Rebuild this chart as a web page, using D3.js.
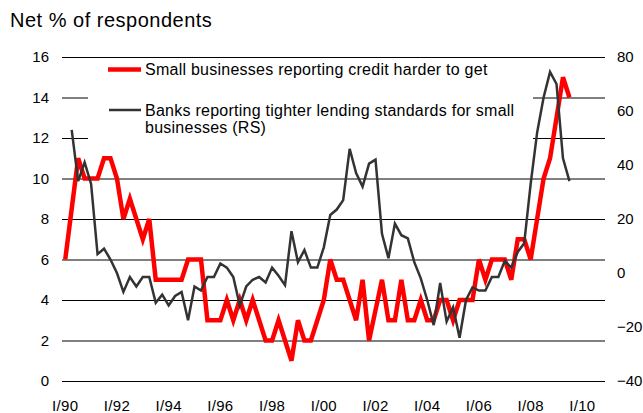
<!DOCTYPE html>
<html>
<meta charset="utf-8">
<script src="https://d3js.org/d3.v7.min.js"></script>
<style>
  body { margin: 0; background: #fff; }
  text { font-family: "Liberation Sans", Arial, sans-serif; fill: #000; }
</style>
<body>
<div id="chart"></div>
<script>

// quarters 1990 Q1 .. 2010 Q4 (category axis)
var years = ["90","91","92","93","94","95","96","97","98","99","00",
             "01","02","03","04","05","06","07","08","09","10"];
var quarterNames = ["I","II","III","IV"];
var tickLabels = ["I/90","I/92","I/94","I/96","I/98","I/00","I/02","I/04","I/06","I/08","I/10"];

// Small businesses reporting credit harder to get (left axis), from I/90
var smallBiz = [6, 8.5, 11, 10, 10, 10, 11, 11, 10, 8, 9, 8, 7, 8, 5, 5,
                5, 5, 5, 6, 6, 6, 3, 3, 3, 4, 3, 4, 3, 4, 3, 2,
                2, 3, 2, 1, 3, 2, 2, 3, 4, 6, 5, 5, 4, 3, 5, 2,
                3.5, 5, 3, 3, 5, 3, 3, 4, 3, 3, 4, 4, 3, 4, 4, 4,
                6, 5, 6, 6, 6, 5, 7, 7, 6, 8, 10, 11, 13, 15, 14];

// Banks reporting tighter lending standards for small businesses (right axis), from II/90
var banks = [null, 53, 34, 41, 33, 7, 9, 5, 0, -7, -1.5, -5, -1.5, -1.5, -11, -8,
             -12, -8.5, -7, -17.5, -5, -6.5, -1.5, -1.5, 3.5, 2, -1.5, -12, -5, -2.5, -1.5, -3.5,
             2, -1, -4.5, 15.5, 4, 8.5, 2, 2, 9.5, 21.5, 23.5, 27, 46, 37, 32, 40.5,
             42, 14.5, 5.5, 18.3, 14, 12.8, 4, -2, -10, -19.3, -3.7, -18, -12.7, -24, -10, -5.3,
             -6.5, -6.5, -1.5, -1.5, 4.5, 2, 7.8, 11, 33, 52, 65, 74.5, 70, 42.5, 34];

var leftTicks = [0, 2, 4, 6, 8, 10, 12, 14, 16];
var rightTicks = [-40, -20, 0, 20, 40, 60, 80];

var quarters = [];
years.forEach(function(y) {
    quarterNames.forEach(function(q) { quarters.push(q + "/" + y); });
});

var W = 643, H = 413;
var margin = {top: 57, right: 38, bottom: 32, left: 62};
var width = W - margin.left - margin.right,
    height = H - margin.top - margin.bottom;

var svg = d3.select("#chart")
    .append("svg")
        .attr("width", W)
        .attr("height", H)
    .append("g")
        .attr("transform", "translate(" + margin.left + "," + margin.top + ")");

var x = d3.scaleBand()
    .domain(quarters)
    .range([0, width]);

var yL = d3.scaleLinear().domain([0, 16]).range([height, 0]);
var yR = d3.scaleLinear().domain([-40, 80]).range([height, 0]);

// title
svg.append("text")
    .attr("x", 10 - margin.left)
    .attr("y", 27 - margin.top)
    .style("font-size", "20px")
    .style("letter-spacing", "0.5px")
    .text("Net % of respondents");

// left axis + gridlines
var gL = svg.append("g")
    .call(d3.axisLeft(yL).tickValues(leftTicks).tickSize(-width).tickPadding(13)
        .tickFormat(d3.format("d")));
gL.select(".domain").remove();
gL.selectAll("line").attr("stroke", "#000").attr("stroke-width", 1);
gL.selectAll("text").style("font-size", "15px");

// right axis labels
var gR = svg.append("g")
    .attr("transform", "translate(" + width + ",0)")
    .call(d3.axisRight(yR).tickValues(rightTicks).tickSize(0).tickPadding(12)
        .tickFormat(d3.format("d")));
gR.select(".domain").remove();
gR.selectAll("text").style("font-size", "15px");

// bottom labels
var gX = svg.append("g")
    .attr("transform", "translate(0," + height + ")")
    .call(d3.axisBottom(x).tickValues(tickLabels).tickSize(0).tickPadding(19));
gX.select(".domain").remove();
gX.selectAll("text").style("font-size", "15px").style("letter-spacing", "0.3px");

// legend backdrop
svg.append("rect")
    .attr("x", 88 - margin.left)
    .attr("y", 60 - margin.top)
    .attr("width", 445)
    .attr("height", 80)
    .attr("fill", "#fff");

var cx = function(d, i) { return x(quarters[i]) + x.bandwidth() / 2; };

// red series
svg.append("path")
    .datum(smallBiz)
    .attr("fill", "none")
    .attr("stroke", "#ff0000")
    .attr("stroke-width", 4.5)
    .attr("d", d3.line()
        .x(cx)
        .y(function(d) { return yL(d); }));

// dark series
svg.append("path")
    .datum(banks)
    .attr("fill", "none")
    .attr("stroke", "#333333")
    .attr("stroke-width", 2.5)
    .attr("d", d3.line()
        .defined(function(d) { return d !== null; })
        .x(cx)
        .y(function(d) { return yR(d); }));

// legend
var lg = svg.append("g").attr("transform", "translate(" + (-margin.left) + "," + (-margin.top) + ")");
lg.append("line")
    .attr("x1", 108).attr("x2", 141).attr("y1", 69.5).attr("y2", 69.5)
    .attr("stroke", "#ff0000").attr("stroke-width", 4.5);
lg.append("line")
    .attr("x1", 109).attr("x2", 141).attr("y1", 110).attr("y2", 110)
    .attr("stroke", "#333333").attr("stroke-width", 2.5);
var legendText = [
    {y: 75, t: "Small businesses reporting credit harder to get"},
    {y: 116, t: "Banks reporting tighter lending standards for small"},
    {y: 133, t: "businesses (RS)"}
];
lg.selectAll("text.leg")
    .data(legendText)
    .enter()
    .append("text")
        .attr("class", "leg")
        .attr("x", 145)
        .attr("y", function(d) { return d.y; })
        .style("font-size", "16px")
        .style("letter-spacing", "0.25px")
        .text(function(d) { return d.t; });

</script>
</body>
</html>
